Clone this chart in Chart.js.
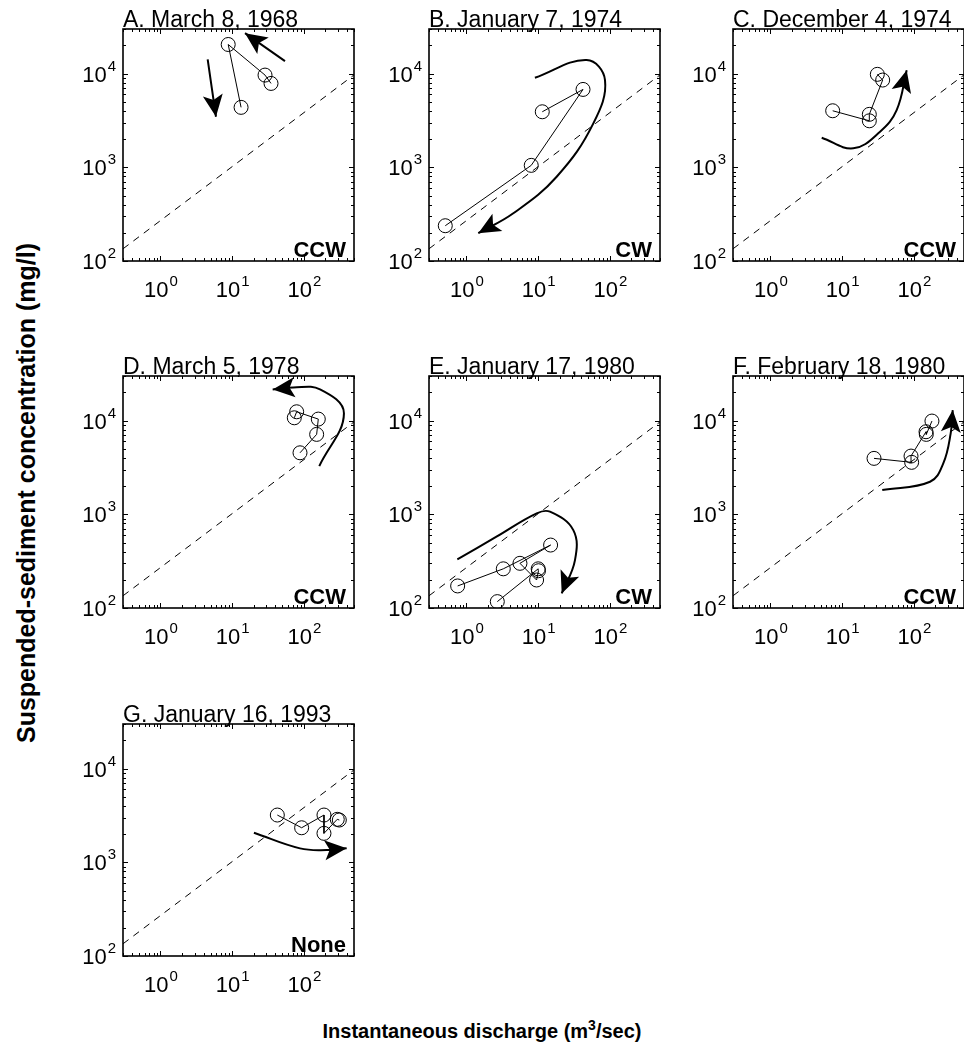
<!DOCTYPE html>
<html>
<head>
<meta charset="utf-8">
<script src="https://cdn.jsdelivr.net/npm/chart.js@4.4.0/dist/chart.umd.min.js"></script>
<style>
  html, body { margin: 0; padding: 0; background: #fff; }
  body { width: 964px; height: 1062px; position: relative; overflow: hidden; font-family: "Liberation Sans", Arial, sans-serif; }
  .xtitle { position: absolute; left: 0; width: 964px; top: 1017px; text-align: center; font-weight: bold; font-size: 20px; }
  .xtitle sup { font-size: 14px; }
  .ytitle { position: absolute; left: 26px; top: 493px; transform: translate(-50%, -50%) rotate(-90deg); white-space: nowrap; font-weight: bold; font-size: 25px; }
</style>
</head>
<body>
<div class="ytitle">Suspended-sediment concentration (mg/l)</div>
<div class="xtitle">Instantaneous discharge (m<sup>3</sup>/sec)</div>
<script>
// ---------------- Data ----------------
const titles = ["A. March 8, 1968", "B. January 7, 1974", "C. December 4, 1974", "D. March 5, 1978",
  "E. January 17, 1980", "F. February 18, 1980", "G. January 16, 1993"];
const loops = ["CCW", "CW", "CCW", "CCW", "CW", "CCW", "None"];

const xTicks = [1, 10, 100];
const yTicks = [100, 1000, 10000];

// reference line
const lineQ = [0.3, 500];
const lineC = [135, 9700];

// samples (discharge m3/s, concentration mg/l)
const qA = [34.8, 28.7, 8.8, 13.3];
const cA = [7870, 9660, 20500, 4370];
const qB = [0.506, 8.0, 42.2, 11.4];
const cB = [238, 1050, 6790, 3920];
const qC = [7.37, 23.9, 23.9, 36.7, 30.9];
const cC = [4020, 3140, 3680, 8550, 9840];
const qD = [88.3, 150.7, 158.8, 79.3, 73.5];
const cD = [4540, 7140, 10400, 12450, 10740];
const qE = [0.753, 3.26, 14.9, 5.57, 9.5, 10.1, 10.0, 2.69];
const cE = [172, 262, 470, 300, 199, 250, 262, 117];
const qF = [27.8, 93, 91.2, 147.6, 149, 178.6];
const cF = [3960, 3590, 4190, 7620, 7140, 9910];
const qG = [42.6, 93, 190.6, 190.6, 292, 312];
const cG = [3200, 2340, 3200, 2040, 2880, 2830];

// hysteresis arrows (last point = arrow tip)
const arrowA1Q = [54.5, 15.1];
const arrowA1C = [13600, 27100];
const arrowA2Q = [4.55, 5.94];
const arrowA2C = [14200, 3470];
const arrowBQ = [9.0, 47.4, 85.5, 58.8, 18.1, 4.5, 1.46];
const arrowBC = [9040, 13970, 8550, 2950, 794, 323, 198];
const arrowCQ = [5.18, 14.3, 33.7, 57.5, 79.4];
const arrowCC = [2070, 1596, 2400, 4080, 10900];
const arrowDQ = [164, 362, 168, 71.1, 36.7];
const arrowDC = [3275, 11970, 21580, 22650, 21580];
const arrowEQ = [0.745, 2.62, 9.53, 14.6, 30.9, 32.6, 21.3];
const arrowEC = [331, 577, 1025, 1067, 679, 325, 143];
const arrowFQ = [36.2, 168, 257, 326, 348];
const arrowFC = [1815, 2230, 3500, 7310, 12970];
const arrowGQ = [20.1, 88.3, 208, 395];
const arrowGC = [2070, 1410, 1352, 1410];

// ---------------- Layout ----------------
const PW = 231, PH = 232;
const PAD = { left: 80, top: 40, right: 15, bottom: 45 };
const FONT = '"Liberation Sans", Arial, sans-serif';

const panels = [
  { q: qA, c: cA, arrows: [[arrowA1Q, arrowA1C], [arrowA2Q, arrowA2C]], left: 123, top: 29 },
  { q: qB, c: cB, arrows: [[arrowBQ, arrowBC]], left: 429, top: 29 },
  { q: qC, c: cC, arrows: [[arrowCQ, arrowCC]], left: 733, top: 29 },
  { q: qD, c: cD, arrows: [[arrowDQ, arrowDC]], left: 123, top: 376 },
  { q: qE, c: cE, arrows: [[arrowEQ, arrowEC]], left: 429, top: 376 },
  { q: qF, c: cF, arrows: [[arrowFQ, arrowFC]], left: 733, top: 376 },
  { q: qG, c: cG, arrows: [[arrowGQ, arrowGC]], left: 123, top: 724 }
];

const toPts = (qs, cs) => qs.map((q, i) => ({ x: q, y: cs[i] }));

// ---------------- Box, ticks, labels, arrowheads ----------------
const panelDecor = {
  id: 'panelDecor',
  afterDraw(chart, args, opts) {
    const { ctx, chartArea: a, scales: { x, y } } = chart;
    ctx.save();
    ctx.strokeStyle = '#000';
    ctx.fillStyle = '#000';

    // inward ticks, major + minor
    ctx.lineWidth = 1;
    ctx.beginPath();
    for (let d = -1; d <= 2; d++) {
      for (let m = 1; m <= 9; m++) {
        const v = m * Math.pow(10, d);
        if (v < x.min || v > x.max) continue;
        const px = Math.round(x.getPixelForValue(v)) + 0.5;
        const len = m === 1 ? 5 : 3;
        ctx.moveTo(px, a.bottom); ctx.lineTo(px, a.bottom - len);
        ctx.moveTo(px, a.top); ctx.lineTo(px, a.top + len);
      }
    }
    for (let d = 2; d <= 4; d++) {
      for (let m = 1; m <= 9; m++) {
        const v = m * Math.pow(10, d);
        if (v < y.min || v > y.max) continue;
        const py = Math.round(y.getPixelForValue(v)) + 0.5;
        const len = m === 1 ? 5 : 3;
        ctx.moveTo(a.left, py); ctx.lineTo(a.left + len, py);
        ctx.moveTo(a.right, py); ctx.lineTo(a.right - len, py);
      }
    }
    ctx.stroke();

    // box
    ctx.lineWidth = 1.6;
    ctx.strokeRect(a.left, a.top, a.right - a.left, a.bottom - a.top);

    // tick labels 10^n
    const big = '22px ' + FONT, small = '15px ' + FONT;
    ctx.textBaseline = 'alphabetic';
    xTicks.forEach(v => {
      const px = x.getPixelForValue(v);
      const e = String(Math.round(Math.log10(v)));
      ctx.font = big; const w1 = ctx.measureText('10').width;
      ctx.font = small; const w2 = ctx.measureText(e).width;
      const x0 = px - (w1 + w2) / 2;
      ctx.textAlign = 'left';
      ctx.font = big; ctx.fillText('10', x0, a.bottom + 36);
      ctx.font = small; ctx.fillText(e, x0 + w1 + 1, a.bottom + 25);
    });
    yTicks.forEach(v => {
      const py = y.getPixelForValue(v);
      const e = String(Math.round(Math.log10(v)));
      ctx.font = small; const w2 = ctx.measureText(e).width;
      ctx.font = big; const w1 = ctx.measureText('10').width;
      const xr = a.left - 7;
      ctx.textAlign = 'left';
      ctx.fillText('10', xr - w2 - w1 - 1, py + 8);
      ctx.font = small; ctx.fillText(e, xr - w2, py - 3);
    });

    // title
    ctx.font = '23px ' + FONT;
    ctx.textAlign = 'left';
    ctx.fillText(opts.title, a.left, a.top - 2.5);

    // loop direction
    ctx.font = 'bold 22px ' + FONT;
    ctx.textAlign = 'right';
    ctx.fillText(opts.loop, a.right - 8, a.bottom - 4);

    // arrowheads on the curves
    chart.data.datasets.forEach((ds, i) => {
      if (!ds.arrow) return;
      const pts = chart.getDatasetMeta(i).data;
      const t = pts[pts.length - 1], p = pts[pts.length - 2];
      let dx = t.x - p.x, dy = t.y - p.y;
      const L = Math.hypot(dx, dy); dx /= L; dy /= L;
      const nx = -dy, ny = dx;
      const bx = t.x - 22 * dx, by = t.y - 22 * dy;
      ctx.beginPath();
      ctx.moveTo(t.x, t.y);
      ctx.lineTo(bx + 10 * nx, by + 10 * ny);
      ctx.lineTo(t.x - 17 * dx, t.y - 17 * dy);
      ctx.lineTo(bx - 10 * nx, by - 10 * ny);
      ctx.closePath();
      ctx.fill();
    });
    ctx.restore();
  }
};

// ---------------- Panels ----------------
panels.forEach((p, k) => {
  const cv = document.createElement('canvas');
  cv.width = PW + PAD.left + PAD.right;
  cv.height = PH + PAD.top + PAD.bottom;
  cv.style.position = 'absolute';
  cv.style.left = (p.left - PAD.left) + 'px';
  cv.style.top = (p.top - PAD.top) + 'px';
  document.body.appendChild(cv);

  const datasets = [
    {
      data: toPts(lineQ, lineC), showLine: true, borderColor: '#000', borderWidth: 1,
      borderDash: [7, 6], pointRadius: 0
    },
    {
      data: toPts(p.q, p.c), showLine: true, borderColor: '#000', borderWidth: 1,
      pointRadius: 7, pointBorderWidth: 1, pointBorderColor: '#000',
      pointBackgroundColor: 'rgba(0,0,0,0)', backgroundColor: 'rgba(0,0,0,0)'
    }
  ];
  p.arrows.forEach(([aq, ac]) => {
    datasets.push({
      data: toPts(aq, ac), showLine: true, borderColor: '#000', borderWidth: 2,
      tension: 0.4, pointRadius: 0, arrow: true
    });
  });

  new Chart(cv, {
    type: 'scatter',
    data: { datasets },
    options: {
      responsive: false,
      animation: false,
      events: [],
      layout: { padding: PAD },
      plugins: {
        legend: { display: false },
        tooltip: { enabled: false },
        panelDecor: { title: titles[k], loop: loops[k] }
      },
      scales: {
        x: {
          type: 'logarithmic', min: 0.3, max: 500,
          ticks: { display: false }, grid: { display: false }, border: { display: false },
          afterFit: s => { s.height = 0; }
        },
        y: {
          type: 'logarithmic', min: 100, max: 30000,
          ticks: { display: false }, grid: { display: false }, border: { display: false },
          afterFit: s => { s.width = 0; }
        }
      }
    },
    plugins: [panelDecor]
  });
});
</script>
</body>
</html>
